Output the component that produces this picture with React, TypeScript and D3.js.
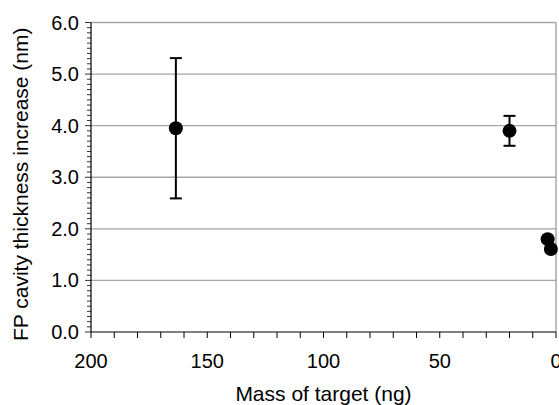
import React from "react";
import * as d3 from "d3";

// values
const mass = [163.5, 20, 3.6, 2.2];
const thickness = [3.95, 3.9, 1.8, 1.61];
const errLow = [2.59, 3.61, null, null];
const errHigh = [5.31, 4.19, null, null];
const yTicks = [0, 1, 2, 3, 4, 5, 6];
const xTicks = [200, 150, 100, 50, 0];

const W = 559;
const H = 405;
const m = { left: 91, right: 3, top: 22.5, bottom: 73 };
const font = "'Liberation Sans', Arial, sans-serif";

export default function App() {
  const x = d3.scaleLinear().domain([200, 0]).range([m.left, W - m.right]);
  const y = d3.scaleLinear().domain([0, 6]).range([H - m.bottom, m.top]);
  const yMinor = d3.range(0, 60.5, 1).map((d) => d / 10);
  const xMinor = d3.range(0, 201, 10);

  return (
    <svg
      width={W}
      height={H}
      style={{ position: "absolute", left: 0, top: 0, fontFamily: font }}
    >
      <rect width={W} height={H} fill="#fff" />
      {yTicks.slice(1).map((t) => (
        <line key={t} x1={x(200)} x2={x(0)} y1={y(t)} y2={y(t)} stroke="#a6a6a6" strokeWidth={1.3} />
      ))}
      <line x1={x(0)} x2={x(0)} y1={y(6)} y2={y(0)} stroke="#999" strokeWidth={1.3} />
      {/* y axis */}
      <line x1={x(200)} x2={x(200)} y1={y(6)} y2={y(0)} stroke="#000" strokeWidth={1.2} />
      {yMinor.map((t, i) => (
        <line key={i} x1={x(200) - (i % 10 === 0 ? 6 : 4)} x2={x(200)} y1={y(t)} y2={y(t)} stroke="#000" strokeWidth={0.8} />
      ))}
      {yTicks.map((t) => (
        <text key={t} x={x(200) - 12} y={y(t)} dy="0.35em" textAnchor="end" fontSize={20}>
          {t.toFixed(1)}
        </text>
      ))}
      {/* x axis */}
      <line x1={x(200)} x2={x(0)} y1={y(0)} y2={y(0)} stroke="#000" strokeWidth={1.2} />
      {xMinor.map((t) => (
        <line key={t} x1={x(t)} x2={x(t)} y1={y(0)} y2={y(0) + 6} stroke="#000" strokeWidth={1} />
      ))}
      {xTicks.map((t) => (
        <text key={t} x={x(t)} y={y(0) + 36} textAnchor="middle" fontSize={20}>
          {t}
        </text>
      ))}
      <text x={(x(200) + x(0)) / 2} y={H - 4} textAnchor="middle" fontSize={21}>
        Mass of target (ng)
      </text>
      <text
        transform={`translate(28, ${(y(0) + y(6)) / 2 + 7}) rotate(-90)`}
        textAnchor="middle"
        fontSize={21}
      >
        FP cavity thickness increase (nm)
      </text>
      {/* error bars */}
      {mass.map((d, i) =>
        errLow[i] == null ? null : (
          <g key={"e" + i} stroke="#000" strokeWidth={2}>
            <line x1={x(d)} x2={x(d)} y1={y(errLow[i] as number)} y2={y(errHigh[i] as number)} />
            <line x1={x(d) - 6} x2={x(d) + 6} y1={y(errLow[i] as number)} y2={y(errLow[i] as number)} />
            <line x1={x(d) - 6} x2={x(d) + 6} y1={y(errHigh[i] as number)} y2={y(errHigh[i] as number)} />
          </g>
        )
      )}
      {mass.map((d, i) => (
        <circle key={i} cx={x(d)} cy={y(thickness[i])} r={7} fill="#000" />
      ))}
    </svg>
  );
}
